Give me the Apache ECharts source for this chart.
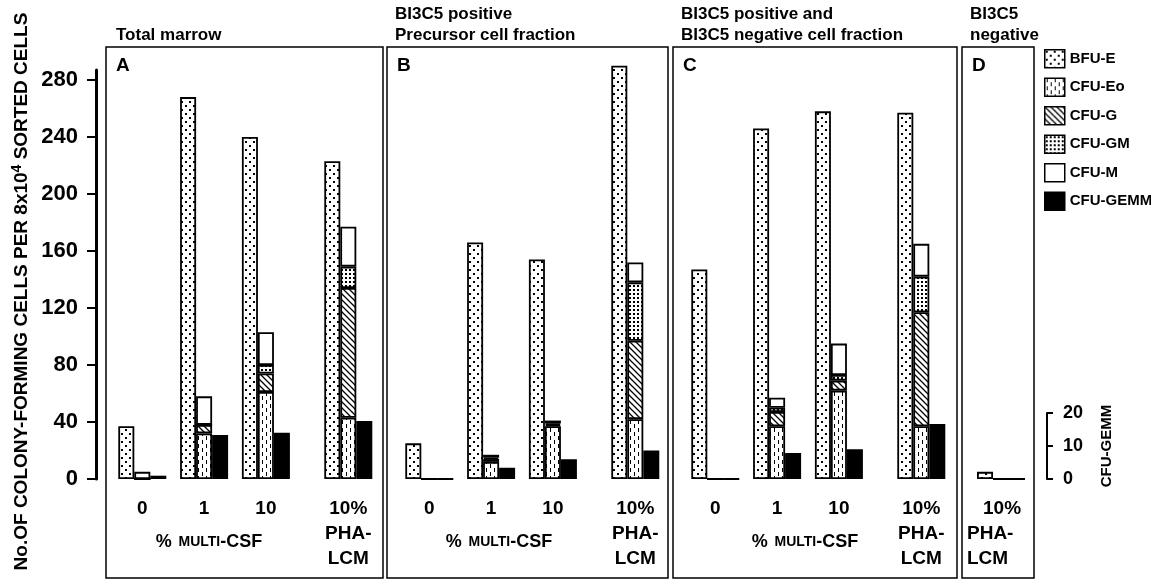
<!DOCTYPE html>
<html><head><meta charset="utf-8">
<script src="https://cdn.jsdelivr.net/npm/echarts@6/dist/echarts.min.js"></script>
<style>html,body{margin:0;padding:0;background:#fff}#c{width:1151px;height:582px}</style>
</head><body><div id="c"></div>
<script>
// ---------- data ----------
const seriesNames = ['BFU-E','CFU-Eo','CFU-G','CFU-GM','CFU-M','CFU-GEMM'];
const categoriesABC = ['0','1','10','10%\nPHA-\nLCM'];
const categoriesD = ['10%\nPHA-\nLCM'];
const yTicks = [0,40,80,120,160,200,240,280];
const gemmTicks = [0,10,20];
const yTitle = 'No.OF COLONY-FORMING CELLS PER 8x10|4| SORTED CELLS';
const gemmTitle = 'CFU-GEMM';
const xNote = '% MULTI-CSF';
const panelTitles = ['Total marrow','BI3C5 positive\nPrecursor cell fraction','BI3C5 positive and\nBI3C5 negative cell fraction','BI3C5\nnegative'];
const panelLetters = ['A','B','C','D'];

// Panel A : Total marrow
const aBFUE = [37,268,240,223];
const aEo   = [0,32,61,43];
const aG    = [0,6,13,91];
const aGM   = [0,0,6,15];
const aM    = [5,20,23,28];
const aGEMM = [1,13.3,14,17.6];
// Panel B : BI3C5 positive
const bBFUE = [25,166,154,290];
const bEo   = [0,12,37,42];
const bG    = [0,2,1,55];
const bGM   = [0,1,1,41];
const bM    = [0,2,2,14];
const bGEMM = [0,3.4,6,8.6];
// Panel C : positive and negative
const cBFUE = [147,246,258,257];
const cEo   = [0,37,62,37];
const cG    = [0,10,7,80];
const cGM   = [0,3,4,25];
const cM    = [0,7,22,23];
const cGEMM = [0,7.9,9,16.7];
// Panel D : negative
const dBFUE = [5];
const dEo   = [0];
const dG    = [0];
const dGM   = [0];
const dM    = [0];
const dGEMM = [0];

// ---------- layout / style ----------
const FONT = '"Liberation Sans", Arial, sans-serif';
const GTOP = 70, GBOT = 103, H = 582 - GTOP - GBOT;
const mainMax = 287;
const gemmPx = 3.3;               // px per CFU-GEMM unit
const gemmMax = H / gemmPx;
const panels = [
  {cats: categoriesABC, slots:[0,3,6,10], n:11, left:132, width:226.6, vals:[aBFUE,aEo,aG,aGM,aM,aGEMM]},
  {cats: categoriesABC, slots:[0,3,6,10], n:11, left:419, width:226.6, vals:[bBFUE,bEo,bG,bGM,bM,bGEMM]},
  {cats: categoriesABC, slots:[0,3,6,10], n:11, left:705, width:226.6, vals:[cBFUE,cEo,cG,cGM,cM,cGEMM]},
  {cats: categoriesD, slots:[0], n:1, left:990, width:22, vals:[dBFUE,dEo,dG,dGM,dM,dGEMM]}
];
const boxes = [[106,383],[387,668],[673,957],[962,1034]];
const noteX = [209,499,805];

function pat(w,h,draw){
  const c=document.createElement('canvas'); c.width=w; c.height=h;
  const g=c.getContext('2d'); g.fillStyle='#fff'; g.fillRect(0,0,w,h);
  g.fillStyle='#000'; g.strokeStyle='#000'; draw(g);
  return {image:c, repeat:'repeat'};
}
const fills = [
  pat(8,8,g=>{g.fillRect(1,1,2,2); g.fillRect(5,5,2,2);}),
  pat(8,8,g=>{g.fillRect(2,0,1,4); g.fillRect(6,4,1,4);}),
  pat(6,6,g=>{g.lineWidth=1.3; g.beginPath(); g.moveTo(-1,-1); g.lineTo(7,7); g.moveTo(-1,5); g.lineTo(1,7); g.moveTo(5,-1); g.lineTo(7,1); g.stroke();}),
  pat(4,4,g=>{g.fillRect(1,1,2,2);}),
  '#ffffff',
  '#000000'
];

function expand(arr, slots, n){ const o=new Array(n).fill(null); slots.forEach((s,i)=>o[s]=arr[i]); return o; }
function axisCats(p){ const o=new Array(p.n).fill(''); p.slots.forEach((s,i)=>o[s]=p.cats[i]); return o; }

const grid=[], xAxis=[], yAxis=[], series=[];
panels.forEach((p,pi)=>{
  grid.push({left:p.left, width:p.width, top:GTOP, bottom:GBOT});
  const isD = p.n===1;
  xAxis.push({type:'category', gridIndex:pi, data:axisCats(p), axisLine:{show:false}, axisTick:{show:false},
    axisLabel:{interval:0, margin:17, color:'#000', fontFamily:FONT, fontWeight:'bold', fontSize:19, lineHeight:25,
      formatter: isD ? (v=>{ if(!v) return ''; const l=v.split('\n'); return l.map((t,i)=> i===0?'{a|'+t+'}':'{b|'+t+'}').join('\n'); }) : undefined,
      rich: isD ? {a:{align:'left',width:52,padding:[0,0,0,16],fontFamily:FONT,fontWeight:'bold',fontSize:19,lineHeight:25},
                   b:{align:'left',width:68,fontFamily:FONT,fontWeight:'bold',fontSize:19,lineHeight:25}} : undefined}});
  yAxis.push(pi===0 ? {type:'value', gridIndex:pi, min:0, max:mainMax, offset:p.left-96, splitLine:{show:false},
      axisLine:{show:true, lineStyle:{color:'#000', width:3}},
      axisTick:{show:true, length:9, lineStyle:{color:'#000', width:2}, customValues:yTicks},
      axisLabel:{color:'#000', fontFamily:FONT, fontWeight:'bold', fontSize:22, margin:18, customValues:yTicks},
      name: yTitle.split('|').map((t,i)=> i===1?'{s|'+t+'}':'{n|'+t+'}').join(''),
      nameLocation:'middle', nameGap:62, nameRotate:90,
      nameTextStyle:{padding:[0,34,0,0], rich:{n:{fontFamily:FONT,fontWeight:'bold',fontSize:19,color:'#000',lineHeight:24},
                                     s:{fontFamily:FONT,fontWeight:'bold',fontSize:14,color:'#000',verticalAlign:'top',lineHeight:24}}}}
    : {type:'value', gridIndex:pi, min:0, max:mainMax, show:false, splitLine:{show:false}});
  yAxis.push({type:'value', gridIndex:pi, min:0, max:gemmMax, show:false, splitLine:{show:false}});
  const yMain = pi*2, yG = pi*2+1;
  seriesNames.forEach((name,si)=>{
    series.push({type:'bar', name, xAxisIndex:pi, yAxisIndex: si===5?yG:yMain,
      stack: (si>=1 && si<=4) ? 'cells'+pi : undefined, clip:false,
      barWidth:16, barGap:'0%', data: expand(p.vals[si], p.slots, p.n), animation:false,
      itemStyle:{color:fills[si], borderColor:'#000', borderWidth:1.8}});
  });
});
// small CFU-GEMM scale
grid.push({left:1046, width:1, top:582-GBOT-20*gemmPx, bottom:GBOT});
xAxis.push({type:'category', gridIndex:4, data:[''], show:false});
yAxis.push({type:'value', gridIndex:4, position:'right', min:0, max:20, interval:10, splitLine:{show:false},
  axisLine:{show:true, lineStyle:{color:'#000', width:2}},
  axisTick:{show:true, length:6, lineStyle:{color:'#000', width:2}},
  axisLabel:{color:'#000', fontFamily:FONT, fontWeight:'bold', fontSize:18, margin:16, customValues:gemmTicks},
  name:gemmTitle, nameLocation:'middle', nameRotate:90, nameGap:52,
  nameTextStyle:{color:'#000', fontFamily:FONT, fontWeight:'bold', fontSize:15}});

const title = [];
panelTitles.forEach((t,i)=>{
  const lines=t.split('\n').length;
  title.push({text:t, left: boxes[i][0]+(i===0?10:8), top: lines===2?3.5:24.5, padding:0,
    textStyle:{fontFamily:FONT, fontWeight:'bold', fontSize:17, color:'#000', lineHeight:21}});
  title.push({text:panelLetters[i], left: boxes[i][0]+10, top:56, padding:0,
    textStyle:{fontFamily:FONT, fontWeight:'bold', fontSize:19, color:'#000', lineHeight:20}});
});

const graphic = boxes.map(b=>({type:'rect', shape:{x:b[0], y:47, width:b[1]-b[0], height:531},
  style:{fill:'none', stroke:'#000', lineWidth:1.5}, silent:true}));
noteX.forEach(x=>{
  const parts = xNote.split(' ');
  graphic.push({type:'text', x, y:542, style:{text:'{a|'+parts[0]+'}  {b|'+parts[1].split('-')[0]+'}{a|-'+parts[1].split('-')[1]+'}',
    align:'center', verticalAlign:'middle',
    rich:{a:{fontFamily:FONT,fontWeight:'bold',fontSize:18,fill:'#000'}, b:{fontFamily:FONT,fontWeight:'bold',fontSize:14,fill:'#000'}}}});
});

const chart = echarts.init(document.getElementById('c'), null, {renderer:'canvas'});
chart.setOption({
  animation:false, backgroundColor:'#fff',
  title, grid, xAxis, yAxis, series, graphic,
  legend:{data:seriesNames, orient:'vertical', left:1044, top:49, itemWidth:20, itemHeight:18, itemGap:9, padding:0,
    icon:'rect', itemStyle:{borderColor:'#000', borderWidth:1.5},
    textStyle:{fontFamily:FONT, fontWeight:'bold', fontSize:15, color:'#000'}, selectedMode:false}
});
</script></body></html>
